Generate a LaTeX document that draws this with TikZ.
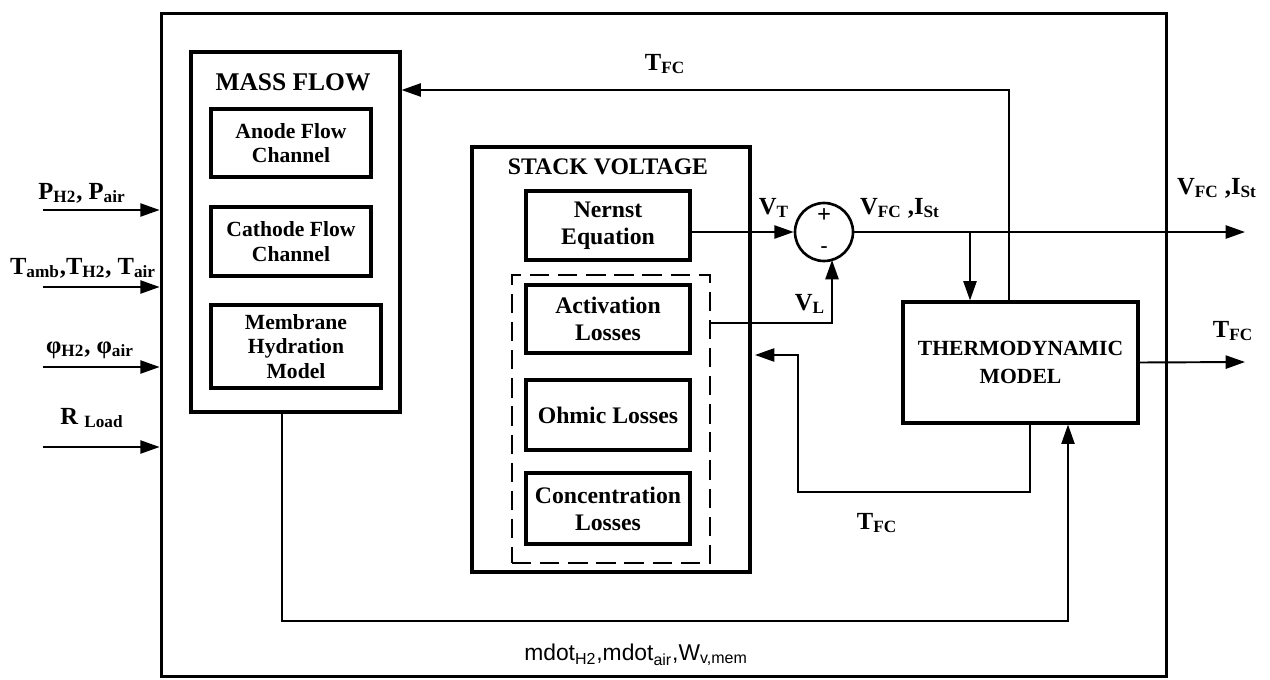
\documentclass[tikz,border=0pt]{standalone}
\usepackage{fontspec}
\setmainfont{Liberation Serif}
\newfontfamily\arialfont{Liberation Sans}
\usetikzlibrary{arrows.meta}

\begin{document}
\begin{tikzpicture}[x=0.02cm, y=-0.02cm,
    blk/.style={draw, line width=1.8pt, inner sep=0pt, align=center},
    inbox/.style={blk, minimum width=3.28cm, font=\bfseries\fontsize{13.5}{15.5}\selectfont},
    mfbox/.style={blk, minimum width=3.2cm, font=\bfseries\fontsize{12.3}{14}\selectfont},
    wire/.style={line width=1.1pt},
    arr/.style={wire, -{Triangle[length=11pt, width=7.5pt]}},
    lbl/.style={font=\bfseries\fontsize{14}{16}\selectfont, inner sep=1pt}]
  \useasboundingbox (0,0) rectangle (1270,679);

  % outer frame
  \node[blk, line width=1.7pt, minimum width=20.12cm, minimum height=13.28cm]
    (outer) at (664,345) {};

  % mass flow block
  \node[blk, minimum width=4.18cm, minimum height=7.2cm] (mass) at (295.5,232) {};
  \node[font=\bfseries\fontsize{14.5}{16}\selectfont] (masstitle) at (293,82) {MASS FLOW};
  \node[mfbox, minimum height=1.36cm] (anode) at (291,143) {Anode Flow\\Channel};
  \node[mfbox, minimum height=1.38cm] (cathode) at (291,241.5) {Cathode Flow\\Channel};
  \node[mfbox, minimum width=3.4cm, minimum height=1.66cm] (membrane) at (296,346.5)
    {Membrane\\Hydration\\Model};

  % stack voltage block
  \node[blk, minimum width=5.56cm, minimum height=8.5cm] (stack) at (611,359.5) {};
  \node[font=\bfseries\fontsize{13.5}{15}\selectfont] (stacktitle) at (608,167) {STACK VOLTAGE};
  \node[inbox, minimum height=1.38cm] (nernst) at (608,225.5) {Nernst\\Equation};
  \node[draw, line width=1.5pt, dash pattern=on 11pt off 5pt, minimum width=3.96cm,
    minimum height=5.76cm] (losses) at (611,419) {};
  \node[inbox, minimum height=1.36cm] (activation) at (608,319) {Activation\\Losses};
  \node[inbox, minimum height=1.4cm] (ohmic) at (608,415) {Ohmic Losses};
  \node[inbox, minimum height=1.42cm] (conc) at (608,508.5) {Concentration\\Losses};

  % summing junction
  \node[draw, circle, line width=1.5pt, minimum size=1.16cm] (sum) at (824,232) {};
  \node[font=\bfseries\fontsize{14}{16}\selectfont, inner sep=0pt] (plus) at (824,216) {+};
  \node[font=\bfseries\fontsize{12}{14}\selectfont, inner sep=0pt] (minus) at (824,250) {-};

  % thermodynamic block
  \node[blk, minimum width=4.7cm, minimum height=2.42cm,
    font=\bfseries\fontsize{12.3}{16}\selectfont] (thermo) at (1020.5,362.5)
    {THERMODYNAMIC\\MODEL};

  \coordinate (vout) at (1245,232);
  \coordinate (tout) at (1245,362);
  \coordinate (tap) at (970,232);
  \coordinate (vlin) at (832,260);

  % signals
  \draw[arr] (nernst.east |- sum.west) -- (sum.west);
  \draw[arr] (losses.east |- 0,323) -| (vlin);
  \draw[arr] (sum.east) -- (vout);
  \draw[arr] (tap) -- (970,0 |- thermo.north);
  \draw[arr] (1009,0 |- thermo.north) |- (mass.east |- 0,90);
  \draw[arr] (thermo.east) -- (tout);
  \draw[arr] (1030,0 |- thermo.south) |- (798,492) |- (755,355);
  \draw[arr, line width=0.9pt] (282,0 |- mass.south) |- (1068,621)
    -- (1068,0 |- thermo.south);

  % inputs
  \foreach \y in {210,287,367,447}
    \draw[arr] (43,\y) -- (outer.west |- 0,\y);
  \node[lbl] (inp) at (82,193) {P\textsubscript{H2}, P\textsubscript{air}};
  \node[lbl] (intemp) at (83,268) {T\textsubscript{amb},T\textsubscript{H2}, T\textsubscript{air}};
  \node[lbl] (inphi) at (90,350) {φ\textsubscript{H2}, φ\textsubscript{air}};
  \node[lbl] (inload) at (92,418) {R \textsubscript{Load}};

  % labels
  \node[lbl] (tfctop) at (665,64) {T\textsubscript{FC}};
  \node[lbl] (vt) at (774,208) {V\textsubscript{T}};
  \node[lbl] (vl) at (810,304) {V\textsubscript{L}};
  \node[lbl] (vfcin) at (900,208) {V\textsubscript{FC} ,I\textsubscript{St}};
  \node[lbl] (vfcout) at (1217,188) {V\textsubscript{FC} ,I\textsubscript{St}};
  \node[lbl] (tfcout) at (1233,331) {T\textsubscript{FC}};
  \node[lbl] (tfcfb) at (877,523) {T\textsubscript{FC}};
  \node[font=\arialfont\fontsize{13}{15}\selectfont] (mdot) at (636,655)
    {mdot\textsubscript{H2},mdot\textsubscript{air},W\textsubscript{v,mem}};
\end{tikzpicture}
\end{document}
